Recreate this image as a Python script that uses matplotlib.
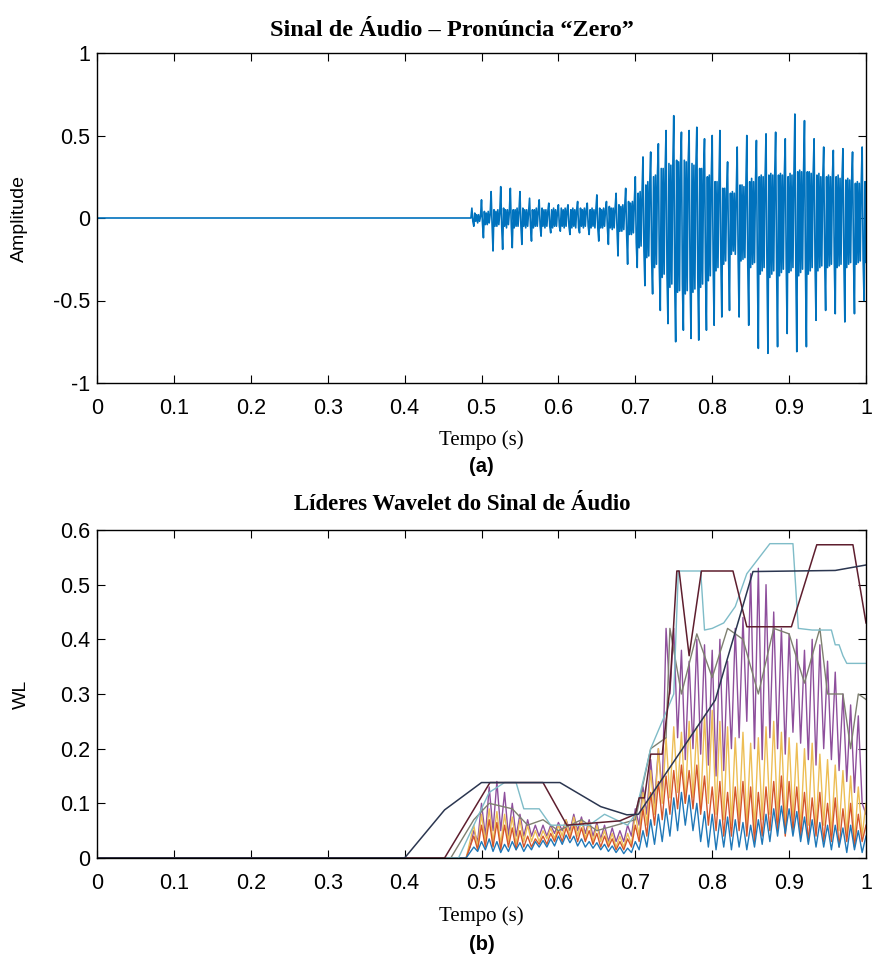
import numpy as np
import matplotlib.pyplot as plt

# === Audio signal (a): voiced part sampled every 1.25 ms, silence before it ===
sig_start = 0.4875
sig_dt = 0.00125

# onset, one row per pitch period (~12.5 ms)
sig_onset = [
    [0.06, -0.02, -0.05, 0.03, -0.02, 0.02, -0.03, 0.02, -0.02, 0.01],
    [0.11, -0.03, -0.12, 0.04, -0.04, 0.03, -0.04, 0.04, -0.03, 0.02],
    [0.16, -0.04, -0.20, 0.05, -0.05, 0.04, -0.05, 0.05, -0.04, 0.03],
    [0.19, -0.05, -0.19, 0.06, -0.05, 0.05, -0.06, 0.05, -0.04, 0.04],
    [0.18, -0.05, -0.18, 0.05, -0.06, 0.05, -0.05, 0.06, -0.05, 0.04],
    [0.16, -0.05, -0.16, 0.06, -0.05, 0.05, -0.06, 0.05, -0.05, 0.04],
    [0.12, -0.05, -0.14, 0.05, -0.06, 0.05, -0.05, 0.06, -0.05, 0.04],
    [0.11, -0.05, -0.11, 0.06, -0.05, 0.05, -0.06, 0.05, -0.05, 0.04],
    [0.09, -0.05, -0.09, 0.05, -0.06, 0.06, -0.05, 0.05, -0.05, 0.04],
    [0.08, -0.05, -0.08, 0.06, -0.05, 0.05, -0.06, 0.06, -0.05, 0.05],
    [0.08, -0.05, -0.10, 0.05, -0.06, 0.06, -0.05, 0.05, -0.06, 0.05],
    [0.10, -0.06, -0.09, 0.06, -0.05, 0.05, -0.06, 0.06, -0.05, 0.05],
    [0.09, -0.05, -0.10, 0.05, -0.06, 0.06, -0.05, 0.05, -0.06, 0.05],
    [0.14, -0.06, -0.14, 0.06, -0.06, 0.05, -0.06, 0.06, -0.05, 0.05],
    [0.10, -0.06, -0.16, 0.07, -0.06, 0.06, -0.07, 0.06, -0.06, 0.06],
    [0.15, -0.07, -0.23, 0.08, -0.08, 0.07, -0.08, 0.08, -0.07, 0.07],
    [0.18, -0.10, -0.28, 0.10, -0.10, 0.09, -0.10, 0.10, -0.09, 0.10],
]
# vowel attack, shorter periods (~10 ms)
sig_attack = [
    [0.25, -0.15, -0.30, 0.15, -0.18, 0.16, -0.17, 0.15],
    [0.37, -0.20, -0.41, 0.20, -0.24, 0.22, -0.23, 0.20],
    [0.40, -0.25, -0.46, 0.25, -0.30, 0.26, -0.28, 0.25],
    [0.45, -0.30, -0.56, 0.30, -0.36, 0.30, -0.34, 0.28],
    [0.53, -0.35, -0.64, 0.33, -0.42, 0.32, -0.40, 0.30],
    [0.62, -0.40, -0.75, 0.35, -0.45, 0.34, -0.44, 0.32],
    [0.52, -0.40, -0.68, 0.35, -0.46, 0.34, -0.44, 0.33],
    [0.53, -0.38, -0.73, 0.33, -0.45, 0.32, -0.43, 0.30],
    [0.55, -0.36, -0.74, 0.30, -0.42, 0.30, -0.40, 0.28],
    [0.48, -0.32, -0.68, 0.25, -0.38, 0.26, -0.35, 0.24],
    [0.50, -0.28, -0.65, 0.22, -0.32, 0.22, -0.30, 0.20],
    [0.53, -0.25, -0.60, 0.18, -0.28, 0.18, -0.26, 0.16],
]
# rest of the vowel
sig_tail = [
    [0.34, -0.22, -0.56, 0.15, -0.22, 0.16, -0.20, 0.15, -0.22, 0.14],
    [0.43, -0.25, -0.60, 0.20, -0.26, 0.20, -0.25, 0.19, -0.24, 0.18],
    [0.50, -0.28, -0.65, 0.22, -0.30, 0.24, -0.28, 0.22, -0.27, 0.21],
    [0.47, -0.30, -0.79, 0.25, -0.34, 0.26, -0.32, 0.25, -0.30, 0.24],
    [0.51, -0.32, -0.82, 0.26, -0.36, 0.27, -0.34, 0.26, -0.32, 0.25],
    [0.52, -0.30, -0.78, 0.26, -0.35, 0.27, -0.33, 0.26, -0.31, 0.25],
    [0.48, -0.28, -0.70, 0.25, -0.33, 0.27, -0.32, 0.26, -0.30, 0.25],
    [0.63, -0.30, -0.81, 0.28, -0.35, 0.29, -0.33, 0.28, -0.31, 0.27],
    [0.59, -0.30, -0.78, 0.28, -0.34, 0.28, -0.32, 0.27, -0.30, 0.26],
    [0.48, -0.28, -0.62, 0.26, -0.32, 0.27, -0.30, 0.25, -0.29, 0.24],
    [0.43, -0.26, -0.56, 0.25, -0.30, 0.26, -0.29, 0.25, -0.28, 0.24],
    [0.41, -0.26, -0.58, 0.25, -0.30, 0.26, -0.29, 0.24, -0.28, 0.23],
    [0.42, -0.26, -0.63, 0.23, -0.30, 0.24, -0.28, 0.23, -0.27, 0.22],
    [0.40, -0.24, -0.58, 0.21, -0.28, 0.22, -0.27, 0.21, -0.26, 0.20],
    [0.43, -0.25, -0.50, 0.22, -0.27, 0.22, -0.25, 0.20, -0.24, 0.20],
]

# === Wavelet leaders (b) ===
# noisy fine scales, sampled every 5 ms from 0.48 s
wl_start = 0.48
wl_dt = 0.005
wl_blue = [
    0.0, 0.01, 0.02, 0.012, 0.03, 0.015, 0.035, 0.012, 0.03, 0.01,
    0.025, 0.012, 0.03, 0.015, 0.028, 0.012, 0.025, 0.015, 0.03, 0.02,
    0.032, 0.02, 0.035, 0.022, 0.04, 0.025, 0.042, 0.028, 0.04, 0.022,
    0.035, 0.02, 0.03, 0.018, 0.028, 0.015, 0.025, 0.012, 0.022, 0.01,
    0.02, 0.008, 0.018, 0.01, 0.03, 0.015, 0.05, 0.02, 0.07, 0.025,
    0.08, 0.03, 0.09, 0.04, 0.11, 0.05, 0.12, 0.06, 0.115, 0.05,
    0.10, 0.03, 0.085, 0.02, 0.08, 0.015, 0.07, 0.02, 0.075, 0.015,
    0.07, 0.02, 0.065, 0.015, 0.06, 0.02, 0.07, 0.025, 0.08, 0.03,
    0.09, 0.04, 0.095, 0.045, 0.09, 0.04, 0.085, 0.03, 0.075, 0.025,
    0.07, 0.02, 0.065, 0.02, 0.06, 0.015, 0.06, 0.02, 0.055, 0.01,
    0.06, 0.015, 0.05, 0.01, 0.04,
]
wl_orange = [
    0.0, 0.02, 0.04, 0.015, 0.06, 0.02, 0.07, 0.02, 0.065, 0.015,
    0.06, 0.02, 0.055, 0.015, 0.05, 0.02, 0.04, 0.02, 0.035, 0.025,
    0.04, 0.025, 0.045, 0.03, 0.05, 0.03, 0.055, 0.035, 0.06, 0.03,
    0.055, 0.03, 0.05, 0.025, 0.045, 0.02, 0.04, 0.02, 0.035, 0.015,
    0.03, 0.015, 0.035, 0.02, 0.06, 0.03, 0.09, 0.04, 0.12, 0.06,
    0.14, 0.07, 0.15, 0.08, 0.16, 0.09, 0.17, 0.10, 0.16, 0.09,
    0.17, 0.08, 0.15, 0.06, 0.13, 0.05, 0.14, 0.04, 0.12, 0.04,
    0.13, 0.05, 0.14, 0.04, 0.13, 0.03, 0.12, 0.04, 0.13, 0.05,
    0.14, 0.05, 0.15, 0.04, 0.14, 0.05, 0.13, 0.04, 0.12, 0.03,
    0.11, 0.04, 0.12, 0.03, 0.10, 0.03, 0.11, 0.02, 0.09, 0.03,
    0.10, 0.02, 0.08, 0.03, 0.06,
]
wl_yellow = [
    0.0, 0.03, 0.06, 0.02, 0.08, 0.03, 0.09, 0.03, 0.085, 0.025,
    0.08, 0.03, 0.075, 0.025, 0.07, 0.03, 0.06, 0.03, 0.05, 0.03,
    0.05, 0.035, 0.055, 0.035, 0.06, 0.04, 0.07, 0.04, 0.075, 0.04,
    0.07, 0.035, 0.065, 0.03, 0.06, 0.03, 0.05, 0.025, 0.045, 0.02,
    0.04, 0.02, 0.045, 0.025, 0.08, 0.04, 0.12, 0.06, 0.16, 0.08,
    0.20, 0.10, 0.22, 0.11, 0.24, 0.12, 0.23, 0.10, 0.25, 0.11,
    0.24, 0.09, 0.26, 0.10, 0.27, 0.08, 0.25, 0.07, 0.24, 0.06,
    0.22, 0.07, 0.23, 0.06, 0.21, 0.05, 0.22, 0.07, 0.24, 0.08,
    0.25, 0.07, 0.23, 0.06, 0.22, 0.07, 0.21, 0.05, 0.20, 0.06,
    0.21, 0.05, 0.19, 0.06, 0.18, 0.04, 0.17, 0.05, 0.16, 0.04,
    0.15, 0.03, 0.13, 0.04, 0.10,
]
wl_purple = [
    0.0, 0.02, 0.05, 0.03, 0.10, 0.04, 0.13, 0.05, 0.14, 0.05,
    0.12, 0.04, 0.10, 0.04, 0.08, 0.04, 0.07, 0.04, 0.06, 0.04,
    0.06, 0.04, 0.06, 0.045, 0.065, 0.05, 0.07, 0.05, 0.08, 0.05,
    0.075, 0.045, 0.07, 0.04, 0.065, 0.035, 0.06, 0.03, 0.055, 0.03,
    0.05, 0.03, 0.06, 0.04, 0.09, 0.06, 0.13, 0.08, 0.18, 0.10,
    0.20, 0.12, 0.42, 0.30, 0.42, 0.22, 0.38, 0.18, 0.36, 0.20,
    0.40, 0.19, 0.39, 0.17, 0.38, 0.15, 0.40, 0.16, 0.36, 0.20,
    0.42, 0.22, 0.44, 0.25, 0.52, 0.20, 0.53, 0.18, 0.50, 0.22,
    0.45, 0.20, 0.42, 0.19, 0.41, 0.23, 0.40, 0.21, 0.38, 0.18,
    0.40, 0.17, 0.39, 0.20, 0.36, 0.18, 0.34, 0.16, 0.30, 0.14,
    0.28, 0.12, 0.26, 0.10, 0.08,
]

# coarse scales: plateau curves given by breakpoints
gray_t = [0, 0.46, 0.49, 0.51, 0.54, 0.56, 0.58, 0.60, 0.63, 0.65, 0.70, 0.72, 0.74, 0.745,
          0.76, 0.78, 0.80, 0.82, 0.84, 0.86, 0.88, 0.90, 0.92, 0.94, 0.95, 0.97, 0.98, 0.99, 1.0]
gray_v = [0, 0, 0.07, 0.10, 0.09, 0.06, 0.07, 0.05, 0.07, 0.05, 0.07, 0.20, 0.22, 0.42,
          0.30, 0.41, 0.33, 0.42, 0.40, 0.30, 0.42, 0.41, 0.32, 0.42, 0.30, 0.30, 0.20, 0.30, 0.29]
teal_t = [0, 0.47, 0.49, 0.51, 0.53, 0.545, 0.555, 0.575, 0.59, 0.64, 0.66, 0.69, 0.70, 0.72,
          0.735, 0.75, 0.756, 0.785, 0.79, 0.80, 0.815, 0.83, 0.845, 0.875, 0.905, 0.912, 0.93,
          0.955, 0.96, 0.965, 0.97, 0.975, 1.0]
teal_v = [0, 0, 0.06, 0.12, 0.138, 0.138, 0.09, 0.09, 0.06, 0.06, 0.08, 0.06, 0.08, 0.20,
          0.25, 0.30, 0.525, 0.525, 0.417, 0.42, 0.43, 0.46, 0.52, 0.575, 0.575, 0.42, 0.417,
          0.417, 0.39, 0.39, 0.37, 0.356, 0.356]
maroon_t = [0, 0.452, 0.511, 0.58, 0.611, 0.68, 0.70, 0.705, 0.712, 0.72, 0.735, 0.745, 0.754,
            0.757, 0.77, 0.786, 0.827, 0.845, 0.903, 0.936, 0.983, 1.0]
maroon_v = [0, 0, 0.138, 0.138, 0.06, 0.068, 0.08, 0.11, 0.11, 0.19, 0.19, 0.31, 0.525,
            0.525, 0.37, 0.525, 0.525, 0.423, 0.423, 0.573, 0.573, 0.43]
navy_t = [0, 0.40, 0.452, 0.50, 0.602, 0.655, 0.689, 0.704, 0.804, 0.853, 0.96, 1.0]
navy_v = [0, 0, 0.088, 0.138, 0.138, 0.094, 0.079, 0.08, 0.289, 0.524, 0.526, 0.536]

# === Build arrays ===
sig_v = np.concatenate([np.ravel(sig_onset), np.ravel(sig_attack), np.ravel(sig_tail)])
sig_t = sig_start + sig_dt * np.arange(len(sig_v))
# silence from 0 s up to the onset
sig_t = np.concatenate([[0.0, sig_start - sig_dt], sig_t])
sig_v = np.concatenate([[0.0, 0.0], sig_v])

wl_t = wl_start + wl_dt * np.arange(len(wl_blue))
wl_t0 = np.concatenate([[0.0], wl_t])


def with_silence(v):
    return np.concatenate([[0.0], v])


# === Figure ===
W, H = 876, 961
fig = plt.figure(figsize=(W / 100, H / 100), dpi=100)

serif = "Liberation Serif"
sans = "Liberation Sans"
xc = 0.5 * (97 + 866) / W
xtick_lbls = ["0", "0.1", "0.2", "0.3", "0.4", "0.5", "0.6", "0.7", "0.8", "0.9", "1"]


def style_axes(ax):
    ax.tick_params(direction="in", length=6, width=0.8, top=True, right=True,
                   labelsize=15.5)
    ax.tick_params(axis="x", pad=11)
    ax.tick_params(axis="y", pad=5)
    for lbl in ax.get_xticklabels() + ax.get_yticklabels():
        lbl.set_fontfamily(sans)
    for s in ax.spines.values():
        s.set_linewidth(1.0)


# --- (a) ---
ax1 = fig.add_axes([97 / W, 1 - 383 / H, 769 / W, 330 / H])
ax1.plot(sig_t, sig_v, color="#0072BD", lw=1.2)
ax1.set_xlim(0, 1)
ax1.set_ylim(-1, 1)
ax1.set_xticks(np.arange(0, 1.01, 0.1))
ax1.set_xticklabels(xtick_lbls)
ax1.set_yticks([-1, -0.5, 0, 0.5, 1])
ax1.set_yticklabels(["-1", "-0.5", "0", "0.5", "1"])
style_axes(ax1)

fig.text(452 / W, 1 - 30 / H, "Sinal de Áudio – Pronúncia “Zero”",
         ha="center", va="center", family=serif, weight="bold", fontsize=17.5)
fig.text(19 / W, 1 - 218 / H, "Amplitude", rotation=90, ha="center", va="center",
         family=sans, fontsize=14)
fig.text(xc, 1 - 440 / H, "Tempo (s)", ha="center", va="center",
         family=serif, fontsize=15)
fig.text(xc, 1 - 467 / H, "(a)", ha="center", va="center",
         family=sans, weight="bold", fontsize=14.5)

# --- (b) ---
ax2 = fig.add_axes([97 / W, 1 - 858 / H, 769 / W, 328 / H])
ax2.plot(wl_t0, with_silence(wl_purple), color="#8E4F9C", lw=1.0)
ax2.plot(wl_t0, with_silence(wl_yellow), color="#EDBE55", lw=1.0)
ax2.plot(wl_t0, with_silence(wl_orange), color="#D4562A", lw=1.0)
ax2.plot(wl_t0, with_silence(wl_blue), color="#1F78B8", lw=1.0)
ax2.plot(gray_t, gray_v, color="#7E8070", lw=1.0)
ax2.plot(teal_t, teal_v, color="#7FBCC8", lw=1.0)
ax2.plot(maroon_t, maroon_v, color="#5E1E2E", lw=1.1)
ax2.plot(navy_t, navy_v, color="#2B3650", lw=1.1)
ax2.set_xlim(0, 1)
ax2.set_ylim(0, 0.6)
ax2.set_xticks(np.arange(0, 1.01, 0.1))
ax2.set_xticklabels(xtick_lbls)
ax2.set_yticks(np.arange(0, 0.61, 0.1))
ax2.set_yticklabels(["0", "0.1", "0.2", "0.3", "0.4", "0.5", "0.6"])
style_axes(ax2)

fig.text(462 / W, 1 - 505 / H, "Líderes Wavelet do Sinal de Áudio",
         ha="center", va="center", family=serif, weight="bold", fontsize=16.5)
fig.text(21 / W, 1 - 694 / H, "WL", rotation=90, ha="center", va="center",
         family=sans, fontsize=14)
fig.text(xc, 1 - 916 / H, "Tempo (s)", ha="center", va="center",
         family=serif, fontsize=15)
fig.text(xc, 1 - 944 / H, "(b)", ha="center", va="center",
         family=sans, weight="bold", fontsize=14.5)

fig.savefig("out.png", dpi=100)
